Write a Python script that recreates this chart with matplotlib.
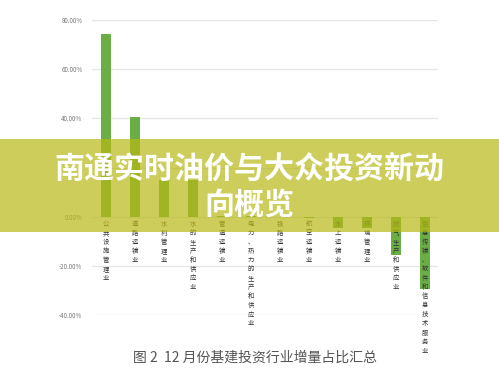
import matplotlib
matplotlib.use("Agg")
import matplotlib.pyplot as plt
from matplotlib.patches import Rectangle

plt.rcParams['font.family'] = ['Noto Sans CJK SC', 'DejaVu Sans']

categories = ["公共设施管理业", "道路运输业", "水利管理业", "水的生产和供应业", "管道运输业",
              "电力、热力的生产和供应业", "铁路运输业", "航空运输业", "水上运输业", "环境管理业",
              "燃气生产和供应业", "信息传输、软件和信息技术服务业"]
values = [74.2, 40.7, 15.0, 14.8, 0.3, 0.3, -0.3, -0.4, -4.5, -4.8, -15.5, -29.5]
yticks = [-40, -20, 0, 20, 40, 60, 80]
# the 20.00% label is hidden behind the banner in the reference
ytick_labels = ["-40.00%", "-20.00%", "0.00%", "", "40.00%", "60.00%", "80.00%"]
title = "南通实时油价与大众投资新动\n向概览"
caption = "图 2  12 月份基建投资行业增量占比汇总"

W, H = 499, 375
fig = plt.figure(figsize=(W / 100, H / 100), dpi=100)
fig.patch.set_facecolor('white')
ax = fig.add_axes([92 / W, 1 - 315 / H, (438 - 92) / W, (315 - 20) / H])

x = list(range(len(categories)))
ax.bar(x, values, width=0.32, color='#6aae45', zorder=3)
ax.set_xlim(-0.48, 11.45)
ax.set_ylim(-40, 80)
ax.set_yticks(yticks)
ax.set_yticklabels(ytick_labels, fontsize=4.5, color='#777777')
ax.set_xticks([])
ax.tick_params(axis='y', length=0, pad=7)
for s in ax.spines.values():
    s.set_visible(False)
ax.grid(axis='y', color='#e6e6e6', linewidth=0.9, zorder=0)

for i, name in enumerate(categories):
    ax.text(i, -1.2, "\n".join(name), ha='center', va='top', fontsize=4.6,
            linespacing=1.18, color='#333333', zorder=4)

fig.add_artist(Rectangle((0, 1 - 232 / H), 1, 93 / H, transform=fig.transFigure,
                         facecolor=(184 / 255, 184 / 255, 22 / 255), alpha=0.7,
                         edgecolor='none', zorder=10))
lines = title.split("\n")
fig.text(0.5, 1 - 169 / H, lines[0], ha='center', va='center', fontsize=21.6,
         fontweight='black', color='white', zorder=11)
fig.text(0.5, 1 - 205 / H, lines[1], ha='center', va='center', fontsize=21.6,
         fontweight='black', color='white', zorder=11)

fig.text(255 / W, 1 - 358 / H, caption, ha='center', va='center', fontsize=10,
         color='#555555')

fig.savefig("out.png", dpi=100)
